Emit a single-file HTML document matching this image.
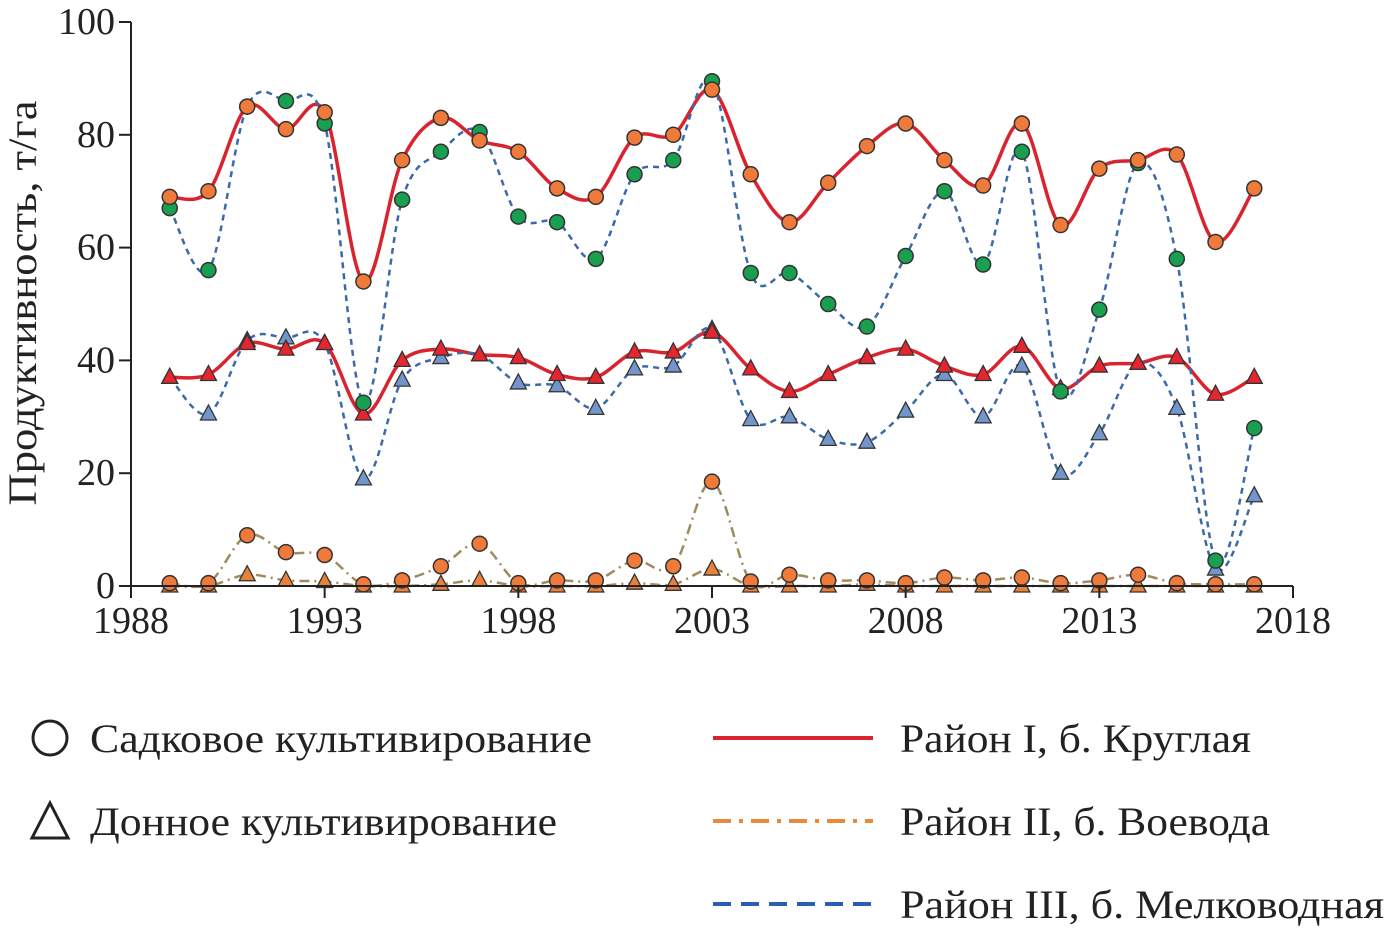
<!DOCTYPE html>
<html><head><meta charset="utf-8"><style>
body{margin:0;background:#fff;width:1386px;height:931px;overflow:hidden}
svg text{font-family:"Liberation Serif",serif;fill:#222}
</style></head><body>
<svg id="chart" width="1386" height="931" xmlns="http://www.w3.org/2000/svg">
<g id="plot"></g>
<g id="axes"></g>
<g>
 <circle cx="50" cy="738" r="17" fill="none" stroke="#222" stroke-width="3"/>
 <text x="90" y="752" font-size="40" textLength="502" lengthAdjust="spacingAndGlyphs">Садковое культивирование</text>
 <polygon points="50,803 32,838 68,838" fill="none" stroke="#222" stroke-width="3"/>
 <text x="90" y="835" font-size="40" textLength="467" lengthAdjust="spacingAndGlyphs">Донное культивирование</text>
 <line x1="713" y1="738" x2="873" y2="738" stroke="#d9232e" stroke-width="4"/>
 <text x="900" y="752" font-size="40" textLength="351" lengthAdjust="spacingAndGlyphs">Район I, б. Круглая</text>
 <line x1="713" y1="821" x2="873" y2="821" stroke="#e88a3a" stroke-width="4" stroke-dasharray="18,8,4,8"/>
 <text x="900" y="835" font-size="40" textLength="370" lengthAdjust="spacingAndGlyphs">Район II, б. Воевода</text>
 <line x1="713" y1="904" x2="873" y2="904" stroke="#2a5db0" stroke-width="4" stroke-dasharray="18,10"/>
 <text x="900" y="918" font-size="40" textLength="484" lengthAdjust="spacingAndGlyphs">Район III, б. Мелководная</text>
</g>
</svg>
<script>
const years=[1989,1990,1991,1992,1993,1994,1995,1996,1997,1998,1999,2000,2001,2002,2003,2004,2005,2006,2007,2008,2009,2010,2011,2012,2013,2014,2015,2016,2017];
const r1Cage=[69,70,85,81,84,54,75.5,83,79,77,70.5,69,79.5,80,88,73,64.5,71.5,78,82,75.5,71,82,64,74,75.5,76.5,61,70.5];
const r3Cage=[67,56,85,86,82,32.5,68.5,77,80.5,65.5,64.5,58,73,75.5,89.5,55.5,55.5,50,46,58.5,70,57,77,34.5,49,75,58,4.5,28];
const r1Bottom=[37,37.5,43,42,43,30.5,40,42,41,40.5,37.5,37,41.5,41.5,45,38.5,34.5,37.5,40.5,42,39,37.5,42.5,35,39,39.5,40.5,34,37];
const r3Bottom=[37,30.5,43.5,44,43,19,36.5,40.5,41,36,35.5,31.5,38.5,39,45.5,29.5,30,26,25.5,31,37.5,30,39,20,27,39.5,31.5,3,16];
const r2Cage=[0.5,0.5,9,6,5.5,0.3,1,3.5,7.5,0.5,1,1,4.5,3.5,18.5,0.8,2,1,1,0.5,1.5,1,1.5,0.5,1,2,0.5,0.3,0.3];
const r2Bottom=[0,0,2,1,0.8,0,0,0.3,1,0,0,0,0.5,0.3,3,0,0,0,0.3,0,0,0,0,0,0,0,0,0,0];
const xTicks=[1988,1993,1998,2003,2008,2013,2018];
const yTicks=[0,20,40,60,80,100];
const NS="http://www.w3.org/2000/svg";
const X=v=>131+(v-1988)*(1293-131)/30, Y=v=>586-v*5.64;
function mk(t,a,p){const e=document.createElementNS(NS,t);for(const k in a)e.setAttribute(k,a[k]);p.appendChild(e);return e;}
const plot=document.getElementById('plot'),axes=document.getElementById('axes');
function smooth(vals){const p=vals.map((v,i)=>[X(years[i]),Y(v)]);let d=`M${p[0][0]},${p[0][1]}`;
 for(let i=0;i<p.length-1;i++){const p0=p[i-1]||p[i],p1=p[i],p2=p[i+1],p3=p[i+2]||p2;
 d+=` C${p1[0]+(p2[0]-p0[0])/6},${p1[1]+(p2[1]-p0[1])/6} ${p2[0]-(p3[0]-p1[0])/6},${p2[1]-(p3[1]-p1[1])/6} ${p2[0]},${p2[1]}`;}return d;}
function line(vals,name,stroke,dash){const e=mk('path',{d:smooth(vals),fill:'none',stroke:stroke,'stroke-width':dash?2.5:3.5,'stroke-dasharray':dash||'none'},plot);

}
line(r1Cage,'line-region1-cage','#d9232e');line(r1Bottom,'line-region1-bottom','#d9232e');
line(r3Cage,'line-region3-cage','#3a6aa8','6,5');line(r3Bottom,'line-region3-bottom','#3a6aa8','6,5');
line(r2Cage,'line-region2-cage','#a08a60','10,5,2,5');line(r2Bottom,'line-region2-bottom','#a08a60','10,5,2,5');
function circles(vals,name,fill){vals.forEach((v,i)=>{const c=mk('circle',{cx:X(years[i]),cy:Y(v),r:7.5,fill:fill,stroke:'#333','stroke-width':1.5},plot);

});}
function tris(vals,name,fill){vals.forEach((v,i)=>{const x=X(years[i]),y=Y(v);const t=mk('polygon',{points:`${x},${y-9} ${x-8},${y+6} ${x+8},${y+6}`,fill:fill,stroke:'#333','stroke-width':1.3},plot);

});}
tris(r2Bottom,'marker-region2-bottom','#e8823a');tris(r3Bottom,'marker-region3-bottom','#7296cc');tris(r1Bottom,'marker-region1-bottom','#e5262e');
circles(r2Cage,'marker-region2-cage','#f07a3a');circles(r3Cage,'marker-region3-cage','#18a050');circles(r1Cage,'marker-region1-cage','#f07a3a');
mk('line',{x1:131,y1:586,x2:1293,y2:586,stroke:'#222','stroke-width':2},axes);
mk('line',{x1:131,y1:586,x2:131,y2:22,stroke:'#222','stroke-width':2},axes);
xTicks.forEach(v=>{const l=mk('line',{x1:X(v),y1:586,x2:X(v),y2:598,stroke:'#222','stroke-width':2},axes);


const t=mk('text',{x:X(v),y:633,'font-size':38,'text-anchor':'middle'},axes);t.textContent=v;

});
yTicks.forEach(v=>{const l=mk('line',{x1:119,y1:Y(v),x2:131,y2:Y(v),stroke:'#222','stroke-width':2},axes);


const t=mk('text',{x:115,y:Y(v)+12,'font-size':38,'text-anchor':'end'},axes);t.textContent=v;

});
const yt=mk('text',{x:0,y:0,'font-size':40,'text-anchor':'middle',textLength:405,lengthAdjust:'spacingAndGlyphs',transform:'translate(36,303) rotate(-90)'},axes);yt.textContent='Продуктивность, т/га';


</script>
</body></html>
